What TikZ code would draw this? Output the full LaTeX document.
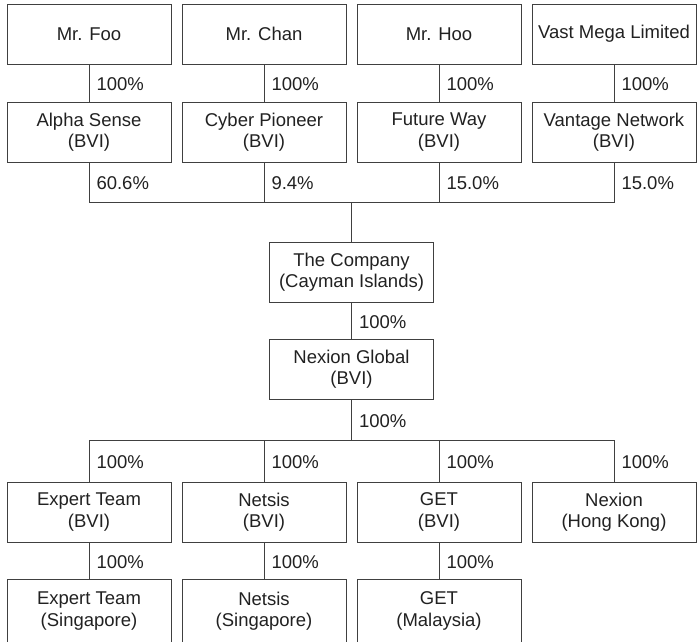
\documentclass[tikz,border=0pt]{standalone}
\usepackage{fontspec}
\newfontfamily\arialfont{Liberation Sans}
\newcommand{\boxfont}{\arialfont\fontsize{18.5}{21.5}\selectfont}
\usetikzlibrary{positioning,calc}
\definecolor{linegray}{gray}{0.25}
\definecolor{textgray}{gray}{0.13}

\begin{document}
\begin{tikzpicture}[x=1pt, y=1pt, node distance=38pt and 11pt]
  \tikzset{
    entity/.style={draw=linegray, line width=1pt, minimum width=164pt,
      minimum height=60pt, inner sep=0pt, outer sep=0pt, align=center,
      text=textgray, font=\boxfont},
    share/.style={anchor=west, inner sep=0pt, xshift=7pt, yshift=-1.5pt,
      text=textgray, font=\boxfont},
    link/.style={draw=linegray, line width=1pt, line cap=rect},
  }
  \useasboundingbox (0,0) rectangle (698,-641);
  \clip (0,0) rectangle (698,-641);

  % shareholders
  \node[entity] (foo) at (89,-34) {Mr. Foo};
  \node[entity, right=of foo] (chan) {Mr. Chan};
  \node[entity, right=of chan] (hoo) {Mr. Hoo};
  \node[entity, right=of hoo] (vast) {Vast Mega Limited};

  \node[entity, below=of foo] (alpha) {Alpha Sense\\(BVI)};
  \node[entity, below=of chan] (cyber) {Cyber Pioneer\\(BVI)};
  \node[entity, below=of hoo] (future) {Future Way\\(BVI)};
  \node[entity, below=of vast] (vantage) {Vantage Network\\(BVI)};

  \draw[link] (foo) -- node[share]{100\%} (alpha);
  \draw[link] (chan) -- node[share]{100\%} (cyber);
  \draw[link] (hoo) -- node[share]{100\%} (future);
  \draw[link] (vast) -- node[share]{100\%} (vantage);

  % the company
  \coordinate (topbus) at ($(cyber.south)!0.5!(future.south)+(0,-40pt)$);
  \node[entity, below=40pt of topbus] (company) {The Company\\(Cayman Islands)};
  \node[entity, below=37pt of company] (global) {Nexion Global\\(BVI)};

  \draw[link] (alpha.south) -- node[share]{60.6\%} (alpha.south |- topbus);
  \draw[link] (cyber.south) -- node[share]{9.4\%} (cyber.south |- topbus);
  \draw[link] (future.south) -- node[share]{15.0\%} (future.south |- topbus);
  \draw[link] (vantage.south) -- node[share]{15.0\%} (vantage.south |- topbus);
  \draw[link] (alpha.south |- topbus) -- (vantage.south |- topbus);
  \draw[link] (topbus) -- (company);
  \draw[link] (company) -- node[share]{100\%} (global);

  % subsidiaries
  \coordinate[below=41pt of global] (lowbus);
  \node[entity, anchor=north, yshift=-42pt] (expert) at (alpha.south |- lowbus) {Expert Team\\(BVI)};
  \node[entity, right=of expert] (netsis) {Netsis\\(BVI)};
  \node[entity, right=of netsis] (get) {GET\\(BVI)};
  \node[entity, right=of get] (hk) {Nexion\\(Hong Kong)};

  \node[entity, below=37pt of expert, minimum height=64pt] (expertsg) {Expert Team\\(Singapore)};
  \node[entity, below=37pt of netsis, minimum height=64pt] (netsissg) {Netsis\\(Singapore)};
  \node[entity, below=37pt of get, minimum height=64pt] (getmy) {GET\\(Malaysia)};

  \draw[link] (global) -- node[share]{100\%} (lowbus);
  \draw[link] (expert.north |- lowbus) -- (hk.north |- lowbus);
  \foreach \sub in {expert, netsis, get, hk}
    \draw[link] (\sub.north |- lowbus) -- node[share]{100\%} (\sub.north);

  \draw[link] (expert) -- node[share]{100\%} (expertsg);
  \draw[link] (netsis) -- node[share]{100\%} (netsissg);
  \draw[link] (get) -- node[share]{100\%} (getmy);

\end{tikzpicture}
\end{document}
